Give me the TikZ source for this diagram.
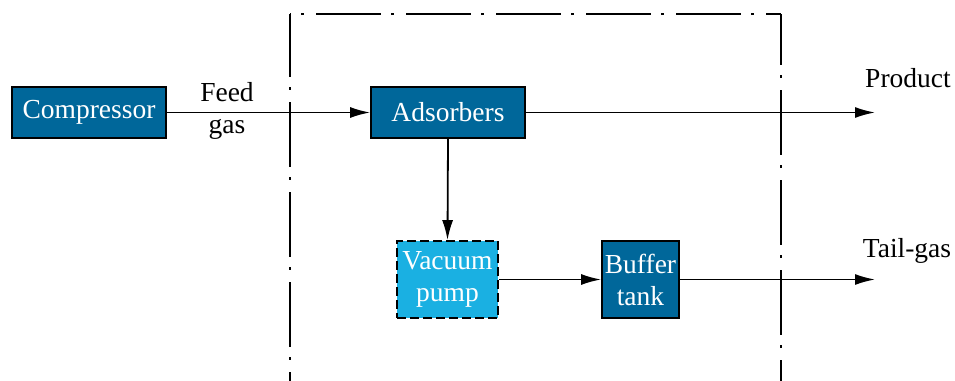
\documentclass[tikz,border=0pt]{standalone}
\usepackage{fontspec}
\setmainfont{Liberation Serif}
\usetikzlibrary{arrows.meta}
\definecolor{darkbox}{RGB}{0,103,154}
\definecolor{lightbox}{RGB}{26,176,226}
\begin{document}
\begin{tikzpicture}[x=1pt,y=-1pt,
  labelfont/.style={font=\fontsize{27.5}{32}\selectfont},
  boxbase/.style={draw=black, line width=1.8pt, text=white, inner sep=0pt, align=center,
     font=\fontsize{27.5}{32}\selectfont},
  darkstep/.style={boxbase, fill=darkbox},
  lightstep/.style={boxbase, fill=lightbox, dash pattern=on 9pt off 4pt},
  flow/.style={line width=1.8pt, -{Latex[length=20pt,width=11pt]}},
  frameline/.style={line width=1.9pt, dash pattern=on 65pt off 10pt on 3pt off 12pt}]
\useasboundingbox (0,0) rectangle (955,380);
% frame (dash-dot)
\draw[frameline, dash phase=2pt] (290,14) -- (290,395);
\draw[frameline, dash phase=64pt] (290,14) -- (781,14);
\draw[frameline, dash phase=14pt] (781,14) -- (781,395);
% boxes
\node[darkstep, minimum width=154pt, minimum height=51pt] (comp) at (89,112.5) {Compressor};
\node[darkstep, minimum width=154pt, minimum height=51pt] (ads) at (448,112.5) {Adsorbers};
\node[lightstep, minimum width=101pt, minimum height=77pt] (vac) at (447.5,279.5) {Vacuum\\pump};
\node[darkstep, minimum width=77pt, minimum height=77pt] (buf) at (640.5,279.5) {Buffer\\tank};
% free ends
\coordinate (prodend) at (875,112.5);
\coordinate (tailend) at (875,279.5);
% connectors
\draw[flow] (comp.east) -- (ads.west);
\draw[flow] (ads.east) -- (prodend);
\draw[flow] (ads.south) -- (vac.north);
\draw[flow] (vac.east) -- (buf.west);
\draw[flow] (buf.east) -- (tailend);
% labels
\node[labelfont, anchor=base, inner sep=0pt] (feed) at (227,101) {Feed};
\node[labelfont, anchor=base, inner sep=0pt] (gas) at (227,133) {gas};
\node[labelfont, anchor=base, inner sep=0pt] (prod) at (908,87) {Product};
\node[labelfont, anchor=base, inner sep=0pt] (tail) at (907,257) {Tail-gas};
\end{tikzpicture}
\end{document}
